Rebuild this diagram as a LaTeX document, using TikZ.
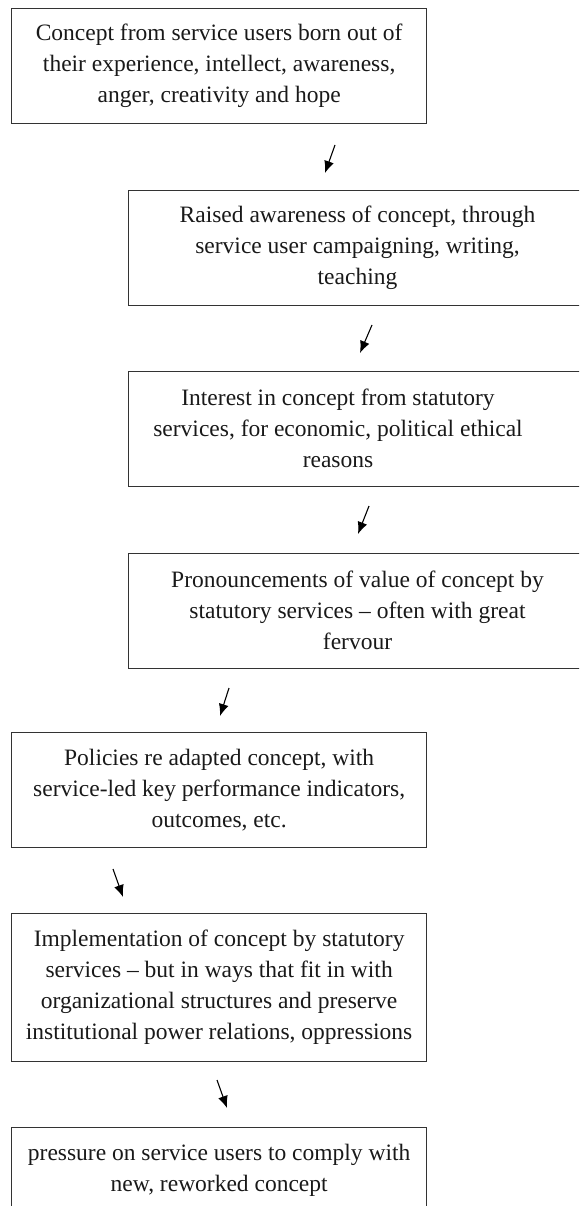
\documentclass[tikz,border=0pt]{standalone}
\usepackage{fontspec}
\setmainfont{Liberation Serif}
\usetikzlibrary{arrows.meta}

\begin{document}
\begin{tikzpicture}[x=1pt, y=-1pt,
  stagebox/.style={draw=black!80, line width=1.3pt, rectangle, inner sep=0pt, anchor=north west},
  boxtext/.style={align=center, inner sep=0pt, text=black!90,
                  font=\fontsize{23.5}{31}\selectfont},
  flow/.style={-{Latex[length=12pt,width=10pt]}, line width=1.1pt, draw=black}]

  % page frame; boxes on the right run off the edge
  \clip (0,0) rectangle (579,1206);

  % stage boxes
  \node[stagebox, minimum width=415, minimum height=115] (b1) at (11,8) {};
  \node[stagebox, minimum width=470, minimum height=115] (b2) at (128,190) {};
  \node[stagebox, minimum width=470, minimum height=115] (b3) at (128,371) {};
  \node[stagebox, minimum width=470, minimum height=115] (b4) at (128,553) {};
  \node[stagebox, minimum width=415, minimum height=115] (b5) at (11,732) {};
  \node[stagebox, minimum width=415, minimum height=148] (b6) at (11,913) {};
  \node[stagebox, minimum width=415, minimum height=85]  (b7) at (11,1127) {};

  % stage texts
  \node[boxtext] (t1) at (b1.center) {Concept from service users born out of\\their experience, intellect, awareness,\\anger, creativity and hope};
  \node[boxtext] (t2) at (357.5,247.5) {Raised awareness of concept, through\\service user campaigning, writing,\\teaching};
  \node[boxtext] (t3) at (338,428.5) {Interest in concept from statutory\\services, for economic, political ethical\\reasons};
  \node[boxtext] (t4) at (357.5,610.5) {Pronouncements of value of concept by\\statutory services – often with great\\fervour};
  \node[boxtext] (t5) at (b5.center) {Policies re adapted concept, with\\service-led key performance indicators,\\outcomes, etc.};
  \node[boxtext] (t6) at (b6.center) {Implementation of concept by statutory\\services – but in ways that fit in with\\organizational structures and preserve\\institutional power relations, oppressions};
  \node[boxtext] (t7) at (b7.center) {pressure on service users to comply with\\new, reworked concept};

  % arrow end points between the stages
  \coordinate (a1s) at (335,145);  \coordinate (a1e) at (325,173);
  \coordinate (a2s) at (372,325);  \coordinate (a2e) at (360,353);
  \coordinate (a3s) at (369,506);  \coordinate (a3e) at (358,534);
  \coordinate (a4s) at (229,688);  \coordinate (a4e) at (220,716);
  \coordinate (a5s) at (113,869);  \coordinate (a5e) at (123,897);
  \coordinate (a6s) at (217,1080); \coordinate (a6e) at (227,1108);

  \draw[flow] (a1s) -- (a1e);
  \draw[flow] (a2s) -- (a2e);
  \draw[flow] (a3s) -- (a3e);
  \draw[flow] (a4s) -- (a4e);
  \draw[flow] (a5s) -- (a5e);
  \draw[flow] (a6s) -- (a6e);
\end{tikzpicture}
\end{document}
